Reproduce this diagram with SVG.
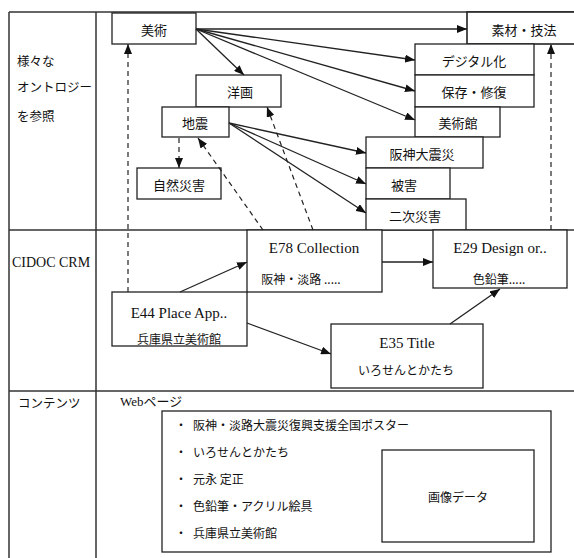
<svg xmlns="http://www.w3.org/2000/svg" width="574" height="558" viewBox="0 0 574 558">
<style>
.grid{stroke:#333;stroke-width:1.5;fill:none}
.box{fill:#fff;stroke:#222;stroke-width:1.3}
.jp{font-family:"Noto Sans CJK JP","Noto Sans",sans-serif;fill:#111}
.n{font-size:13px;text-anchor:middle;dominant-baseline:central}
.lbl{font-size:12.5px;dominant-baseline:central}
.se{font-family:"Liberation Serif","Noto Sans CJK JP",serif;fill:#111;font-size:15px;text-anchor:middle;dominant-baseline:central}
.sm{font-size:12px;text-anchor:middle;dominant-baseline:central}
.sol{stroke:#222;stroke-width:1.3;fill:none;marker-end:url(#ah)}
.dash{stroke:#222;stroke-width:1.2;fill:none;stroke-dasharray:5,4;marker-end:url(#ah)}
</style>
<defs>
<marker id="ah" markerUnits="userSpaceOnUse" markerWidth="10" markerHeight="8" refX="10" refY="4" orient="auto">
<path d="M0,0 L10,4 L0,8 z" fill="#111"/>
</marker>
</defs>
<rect width="574" height="558" fill="#fff"/>
<g id="table">
<line class="grid" x1="9" y1="12" x2="574" y2="12"/>
<line class="grid" x1="9" y1="12" x2="9" y2="558"/>
<line class="grid" x1="96" y1="12" x2="96" y2="558"/>
<line class="grid" x1="9" y1="230" x2="574" y2="230"/>
<line class="grid" x1="9" y1="391" x2="574" y2="391"/>
<text class="jp lbl" x="17" y="60">様々な</text>
<text class="jp lbl" x="17" y="86">オントロジー</text>
<text class="jp lbl" x="17" y="115">を参照</text>
<text class="se" x="51" y="262" style="font-size:14px">CIDOC CRM</text>
<text class="jp lbl" x="18" y="402">コンテンツ</text>
</g>
<g id="n-bijutsu"><rect class="box" x="112" y="13" width="84" height="31"/><text class="jp n" x="154" y="29">美術</text></g>
<g id="n-sozai"><rect class="box" x="467" y="12" width="120" height="32" style="stroke-width:1.6"/><text class="jp n" x="524" y="29">素材・技法</text></g>
<g id="n-digital"><rect class="box" x="415" y="44" width="119" height="31"/><text class="jp n" x="474" y="60">デジタル化</text></g>
<g id="n-hozon"><rect class="box" x="415" y="75" width="119" height="32"/><text class="jp n" x="474" y="91">保存・修復</text></g>
<g id="n-yoga"><rect class="box" x="196" y="75" width="85" height="32"/><text class="jp n" x="240" y="91">洋画</text></g>
<g id="n-bijutsukan"><rect class="box" x="415" y="107" width="85" height="30"/><text class="jp n" x="458" y="122">美術館</text></g>
<g id="n-jishin"><rect class="box" x="162" y="107" width="67" height="30"/><text class="jp n" x="195" y="122">地震</text></g>
<g id="n-hanshin"><rect class="box" x="366" y="137" width="117" height="31"/><text class="jp n" x="422" y="153">阪神大震災</text></g>
<g id="n-shizen"><rect class="box" x="137" y="168" width="84" height="31"/><text class="jp n" x="179" y="184">自然災害</text></g>
<g id="n-higai"><rect class="box" x="366" y="168" width="84" height="31"/><text class="jp n" x="404" y="184">被害</text></g>
<g id="n-niji"><rect class="box" x="366" y="199" width="100" height="31"/><text class="jp n" x="415" y="215">二次災害</text></g>
<g id="n-e78"><rect class="box" x="247" y="230" width="135" height="62"/><text class="se" x="314" y="248">E78 Collection</text><text class="jp sm" x="301" y="278">阪神・淡路 .....</text></g>
<g id="n-e29"><rect class="box" x="433" y="230" width="134" height="58"/><text class="se" x="500" y="248">E29 Design or..</text><text class="jp sm" x="499" y="278">色鉛筆.....</text></g>
<g id="n-e44"><rect class="box" x="112" y="292" width="135" height="54"/><text class="se" x="179" y="313">E44 Place App..</text><text class="jp sm" x="179" y="338">兵庫県立美術館</text></g>
<g id="n-e35"><rect class="box" x="331" y="324" width="152" height="64"/><text class="se" x="407" y="343">E35 Title</text><text class="jp sm" x="406" y="369">いろせんとかたち</text></g>
<g id="n-web">
<text class="se" x="120" y="401" style="font-size:13px;text-anchor:start">Webページ</text>
<rect class="box" x="162" y="411" width="389" height="141"/>
<g class="jp" font-size="12">
<text x="175" y="430">・</text><text x="193" y="430">阪神・淡路大震災復興支援全国ポスター</text>
<text x="175" y="457">・</text><text x="193" y="457">いろせんとかたち</text>
<text x="175" y="484">・</text><text x="193" y="484">元永 定正</text>
<text x="175" y="511">・</text><text x="193" y="511">色鉛筆・アクリル絵具</text>
<text x="175" y="538">・</text><text x="193" y="538">兵庫県立美術館</text>
</g>
</g>
<g id="n-gazo"><rect class="box" x="382" y="450" width="152" height="92"/><text class="jp sm" x="458" y="496">画像データ</text></g>
<g id="connectors">
<line class="sol" x1="196" y1="29" x2="467" y2="29"/>
<line class="sol" x1="196" y1="29" x2="415" y2="60"/>
<line class="sol" x1="196" y1="29" x2="415" y2="91"/>
<line class="sol" x1="196" y1="29" x2="415" y2="120"/>
<line class="sol" x1="196" y1="29" x2="244" y2="75"/>
<line class="sol" x1="229" y1="123" x2="366" y2="153"/>
<line class="sol" x1="229" y1="123" x2="366" y2="184"/>
<line class="sol" x1="229" y1="123" x2="366" y2="213"/>
<line class="dash" x1="179" y1="138" x2="179" y2="168"/>
<line class="dash" x1="128" y1="292" x2="128" y2="44"/>
<line class="dash" x1="263" y1="230" x2="198" y2="138"/>
<line class="dash" x1="313" y1="230" x2="267" y2="107"/>
<line class="dash" x1="551" y1="230" x2="551" y2="44"/>
<line class="sol" x1="180" y1="292" x2="247" y2="262"/>
<line class="sol" x1="382" y1="262" x2="433" y2="262"/>
<line class="sol" x1="247" y1="323" x2="331" y2="354"/>
<line class="sol" x1="450" y1="324" x2="500" y2="289"/>
</g>
</svg>
